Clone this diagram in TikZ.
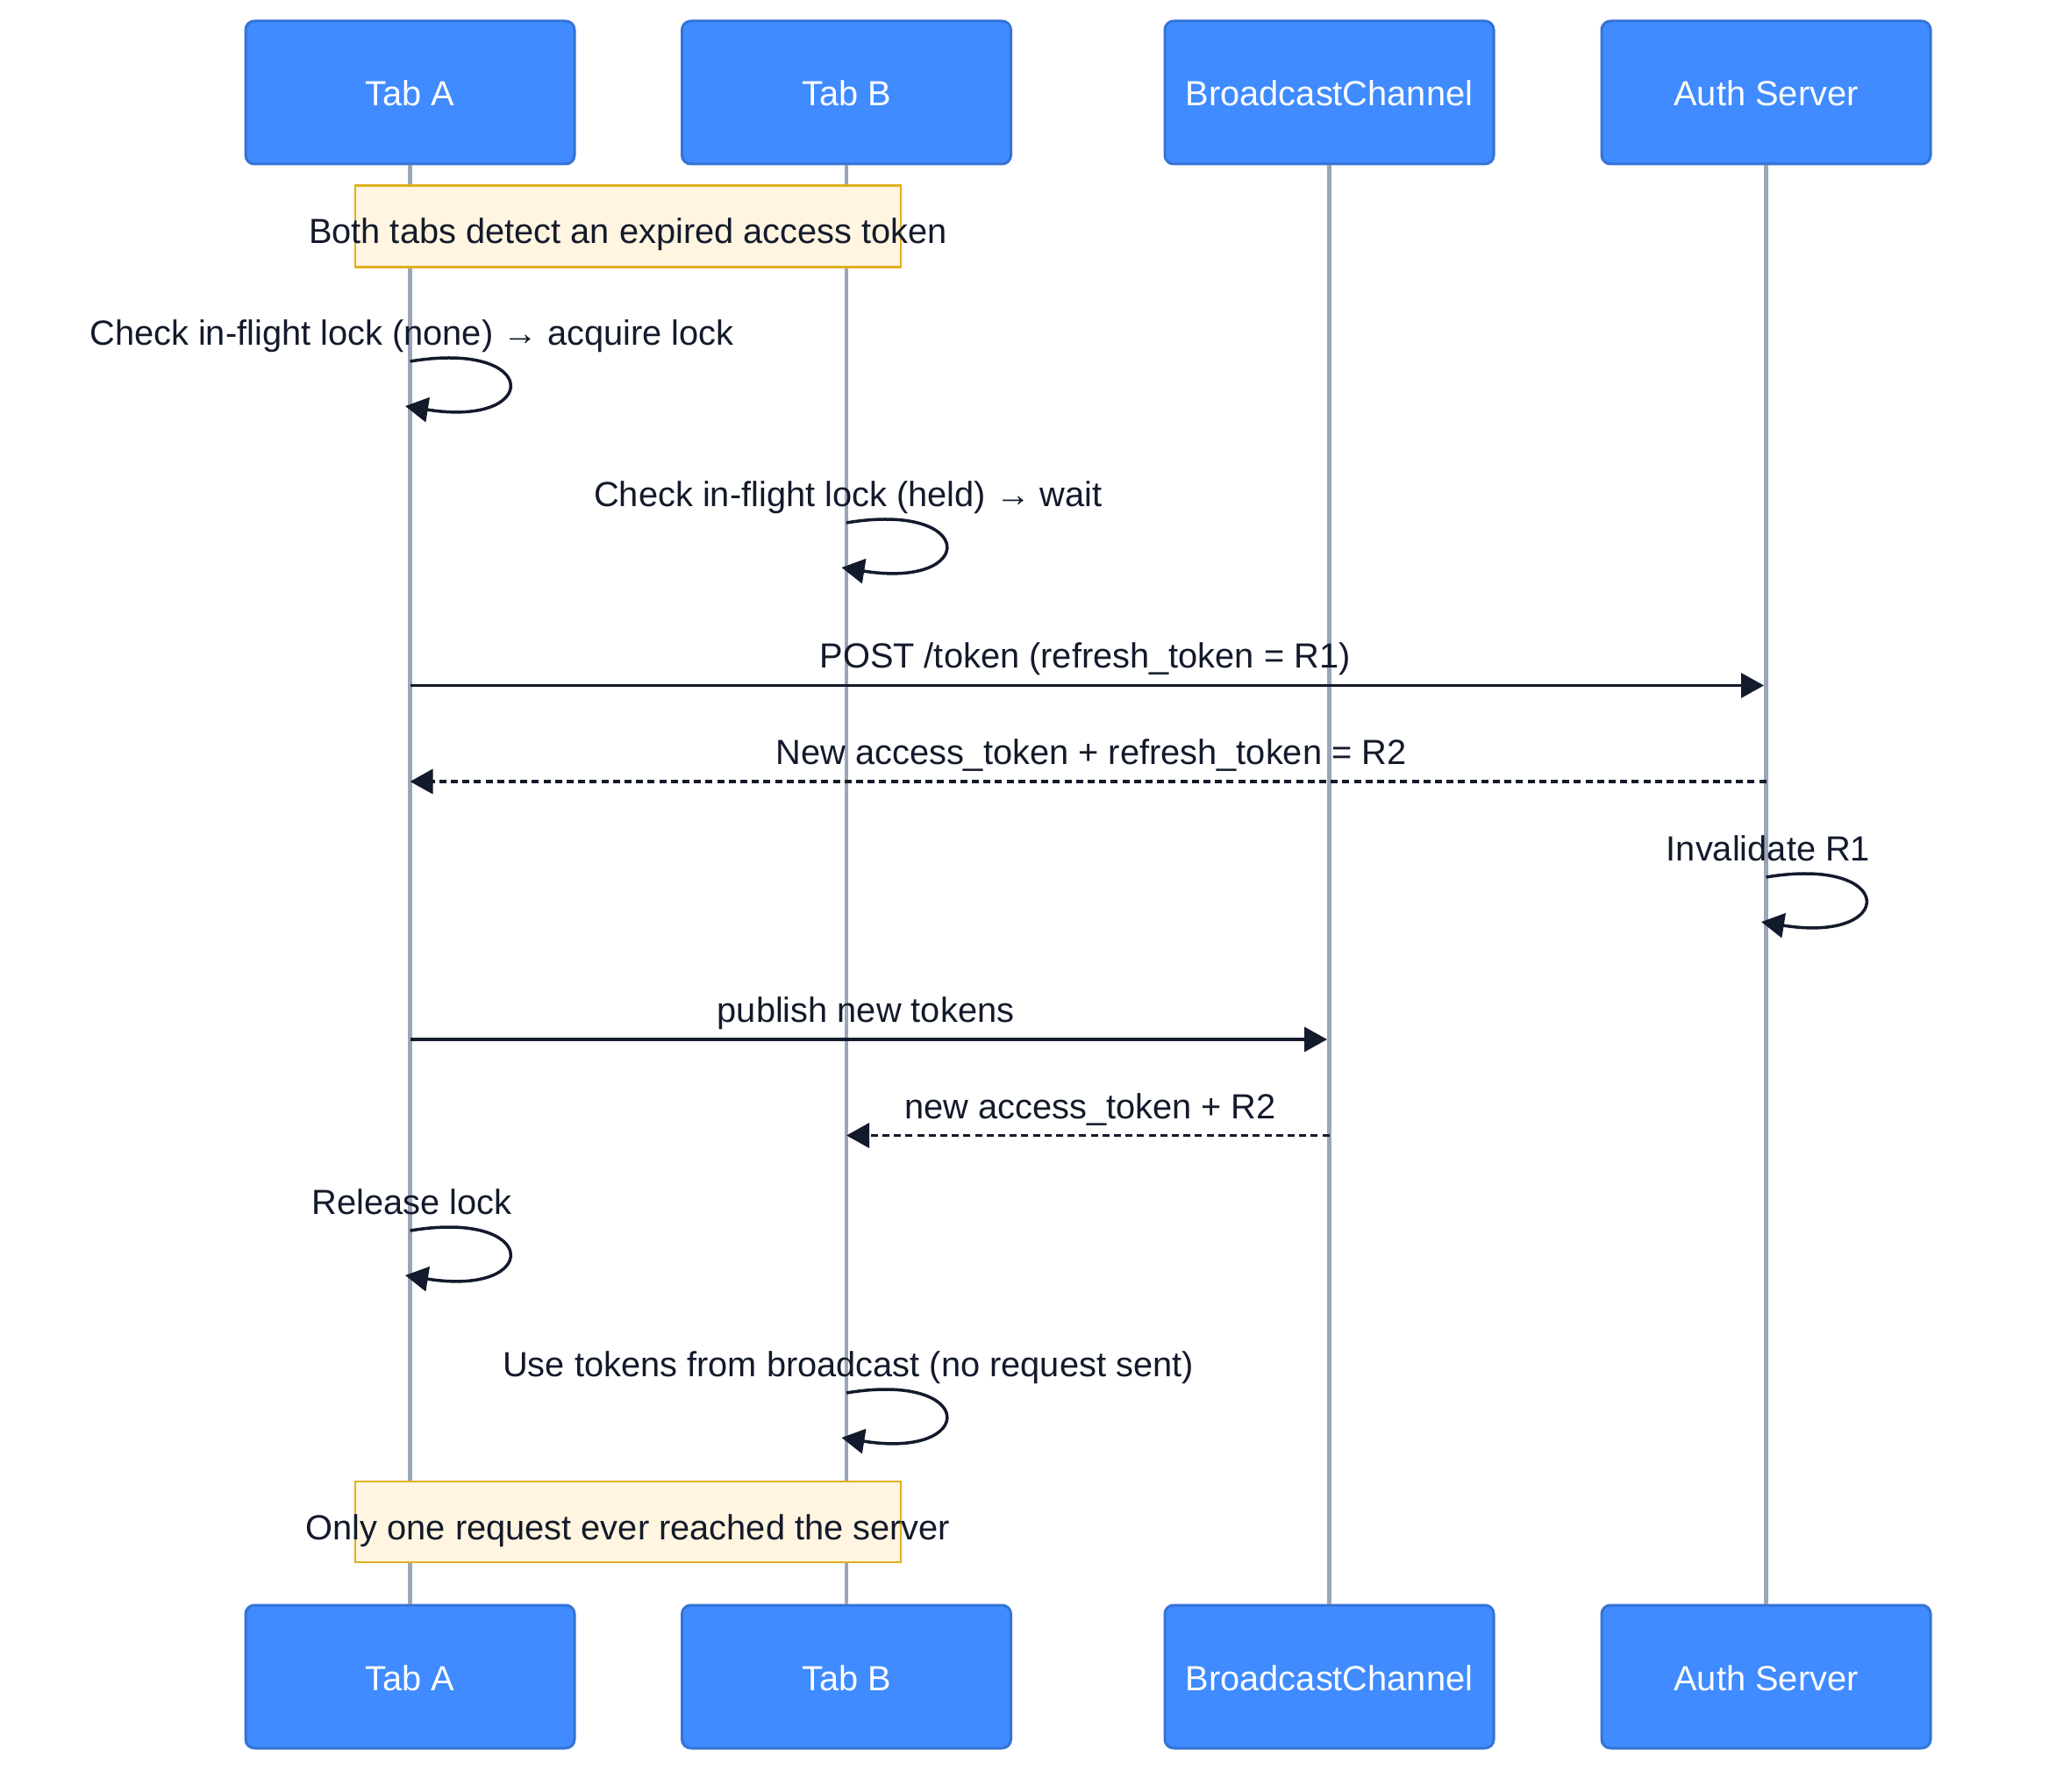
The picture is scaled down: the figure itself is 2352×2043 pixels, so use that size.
\documentclass[tikz,border=0pt]{standalone}
\usepackage{fontspec}
\setmainfont{Liberation Sans}
\usetikzlibrary{arrows.meta}
\definecolor{boxfill}{HTML}{3F8BFF}
\definecolor{boxline}{HTML}{3573D6}
\definecolor{life}{HTML}{9AA6B8}
\definecolor{ink}{HTML}{131A2B}
\definecolor{notefill}{HTML}{FFF5E0}
\definecolor{noteline}{HTML}{E0B020}
\newcommand{\lblfont}{\fontsize{19.9}{24}\selectfont}
\begin{document}
\begin{tikzpicture}[x=0.5pt,y=-0.5pt,
 actor/.style={draw=boxline, line width=1.5pt, fill=boxfill, rounded corners=5pt, minimum width=187.5pt, minimum height=81.5pt, text=white, font=\lblfont, inner sep=0pt},
 alabel/.style={text=white, font=\lblfont, anchor=base, inner sep=0pt},
 lifeline/.style={draw=life, line width=2.2pt},
 msg/.style={draw=ink, line width=1.75pt, -{Triangle[length=13pt,width=14pt]}},
 reply/.style={msg, dash pattern=on 4pt off 2.6pt},
 lbl/.style={text=ink, font=\lblfont, anchor=base, inner sep=0pt},
 note/.style={draw=noteline, fill=notefill, line width=1.2pt, inner sep=0pt}
]
\fill[white] (0,0) rectangle (2352,2043);
\useasboundingbox (0,0) rectangle (2352,2043);

% participants
\node[actor] (tA) at (467.5,105.5) {};
\node[actor] (tB) at (965,105.5) {};
\node[actor] (bc) at (1515.5,105.5) {};
\node[actor] (au) at (2013.5,105.5) {};
\node[actor] (tA2) at (467.5,1911.5) {};
\node[actor] (tB2) at (965,1911.5) {};
\node[actor] (bc2) at (1515.5,1911.5) {};
\node[actor] (au2) at (2013.5,1911.5) {};
\node[alabel] at (467.5,121) {Tab A};
\node[alabel] at (965,121) {Tab B};
\node[alabel] at (1515.5,121) {BroadcastChannel};
\node[alabel] at (2013.5,121) {Auth Server};
\node[alabel] at (467.5,1927) {Tab A};
\node[alabel] at (965,1927) {Tab B};
\node[alabel] at (1515.5,1927) {BroadcastChannel};
\node[alabel] at (2013.5,1927) {Auth Server};

% lifelines
\draw[lifeline] (tA) -- (tA2);
\draw[lifeline] (tB) -- (tB2);
\draw[lifeline] (bc) -- (bc2);
\draw[lifeline] (au) -- (au2);

% notes
\node[note, minimum width=311.25pt, minimum height=46.5pt] (n1) at (716,258) {};
\node[lbl] (n1t) at (716,278) {Both tabs detect an expired access token};
\node[note, minimum width=311.25pt, minimum height=46pt] (n2) at (716,1735) {};
\node[lbl] (n2t) at (716,1755) {Only one request ever reached the server};

% self loop 1: Tab A
\node[lbl] (l1t) at (469.5,393.5) {Check in-flight lock (none) → acquire lock};
\coordinate (l1s) at (467.5,412);
\coordinate (l1e) at (462,463);
\draw[msg] (l1s) .. controls +(150,-25) and +(155,25) .. (l1e);

% self loop 2: Tab B
\node[lbl] (l2t) at (967,577.5) {Check in-flight lock (held) → wait};
\coordinate (l2s) at (965,596);
\coordinate (l2e) at (959.5,647);
\draw[msg] (l2s) .. controls +(150,-25) and +(155,25) .. (l2e);

% POST
\node[lbl] (m1t) at (1237,761.5) {POST /token (refresh\_token = R1)};
\coordinate (m1s) at (467.5,781.5);
\coordinate (m1e) at (2011,781.5);
\draw[msg] (m1s) -- (m1e);

% reply
\node[lbl] (m2t) at (1244,871.5) {New access\_token + refresh\_token = R2};
\coordinate (m2s) at (2013.5,891);
\coordinate (m2e) at (467.5,891);
\draw[reply] (m2s) -- (m2e);

% Invalidate R1
\node[lbl] (l3t) at (2016,981.5) {Invalidate R1};
\coordinate (l3s) at (2013.5,1000);
\coordinate (l3e) at (2008,1051);
\draw[msg] (l3s) .. controls +(150,-25) and +(155,25) .. (l3e);

% publish
\node[lbl] (m3t) at (987,1165.5) {publish new tokens};
\coordinate (m3s) at (467.5,1185);
\coordinate (m3e) at (1513,1185);
\draw[msg] (m3s) -- (m3e);

% new access token + R2
\node[lbl] (m4t) at (1243,1275.5) {new access\_token + R2};
\coordinate (m4s) at (1515.5,1294.5);
\coordinate (m4e) at (965,1294.5);
\draw[reply] (m4s) -- (m4e);

% Release lock
\node[lbl] (l4t) at (469.5,1384.5) {Release lock};
\coordinate (l4s) at (467.5,1403);
\coordinate (l4e) at (462,1454);
\draw[msg] (l4s) .. controls +(150,-25) and +(155,25) .. (l4e);

% Use tokens
\node[lbl] (l5t) at (967,1569.5) {Use tokens from broadcast (no request sent)};
\coordinate (l5s) at (965,1588);
\coordinate (l5e) at (959.5,1639);
\draw[msg] (l5s) .. controls +(150,-25) and +(155,25) .. (l5e);
\end{tikzpicture}
\end{document}
